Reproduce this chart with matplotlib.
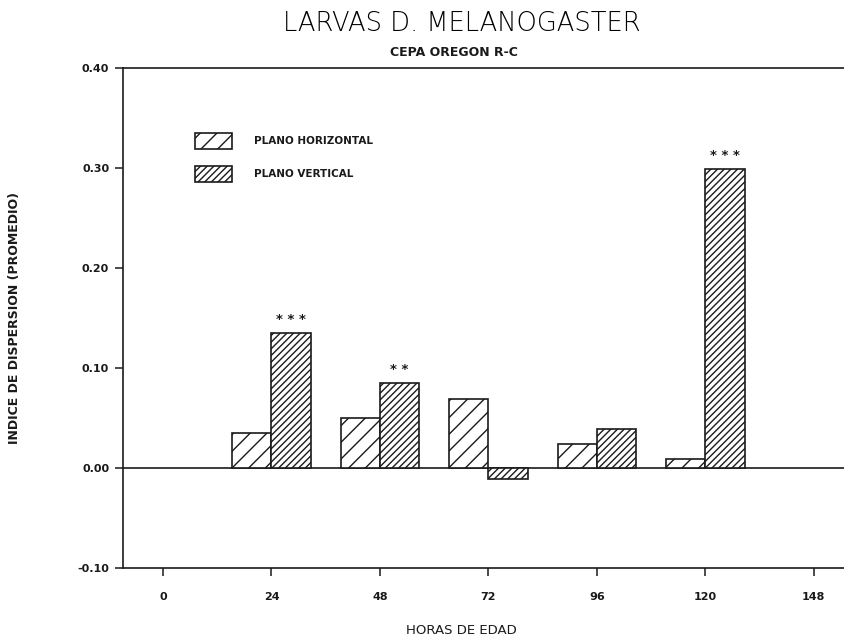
import matplotlib
matplotlib.use("Agg")
import matplotlib.pyplot as plt
import numpy as np

# horas de edad y promedios del indice de dispersion
horas = [24, 48, 72, 96, 120]
plano_horizontal = [0.035, 0.050, 0.069, 0.024, 0.009]
plano_vertical = [0.135, 0.085, -0.011, 0.039, 0.299]
signif_vertical = ["***", "**", "", "", "***"]

xticks = [0, 24, 48, 72, 96, 120, 144]
xtick_labels = ["0", "24", "48", "72", "96", "120", "148"]
yticks = [-0.10, 0.00, 0.10, 0.20, 0.30, 0.40]
ytick_labels = ["-0.10", "0.00", "0.10", "0.20", "0.30", "0.40"]

INK = "#1a1a1a"
plt.rcParams["font.family"] = ["DejaVu Sans"]
plt.rcParams["hatch.linewidth"] = 1.0
plt.rcParams["hatch.color"] = INK


def main():
    fig = plt.figure(figsize=(8.45, 6.43), dpi=100)
    ax = fig.add_axes([0.1456, 0.1166, 0.8544, 0.7776])

    w = 8.7
    x = np.array(horas)
    ax.bar(x - w / 2, plano_horizontal, width=w, facecolor="white",
           edgecolor=INK, linewidth=1.2, hatch="//", label="PLANO HORIZONTAL", zorder=3)
    barras_v = ax.bar(x + w / 2, plano_vertical, width=w, facecolor="white",
                      edgecolor=INK, linewidth=1.2, hatch="/////", label="PLANO VERTICAL", zorder=3)

    for b, s, v in zip(barras_v, signif_vertical, plano_vertical):
        if s:
            ax.annotate(" ".join(s), (b.get_x() + b.get_width() / 2, v),
                        xytext=(0, 5), textcoords="offset points",
                        ha="center", va="bottom", fontsize=9.5, fontweight="bold", color=INK)

    ax.axhline(0, color=INK, linewidth=1.2, zorder=2)

    ax.set_xlim(-8.85, 150.9)
    ax.set_ylim(-0.10, 0.40)
    ax.set_xticks(xticks)
    ax.set_xticklabels(xtick_labels)
    ax.set_yticks(yticks)
    ax.set_yticklabels(ytick_labels)
    ax.tick_params(axis="both", direction="out", length=6, width=1.1, color=INK,
                   labelsize=8, labelcolor=INK)
    ax.tick_params(axis="x", pad=11)
    ax.tick_params(axis="y", pad=4)
    for lab in ax.get_xticklabels() + ax.get_yticklabels():
        lab.set_fontweight("semibold")

    ax.spines["right"].set_visible(False)
    for s in ["left", "top", "bottom"]:
        ax.spines[s].set_linewidth(1.2)
        ax.spines[s].set_color(INK)

    # rotulos de los ejes
    fig.text(461 / 845, 1 - 630 / 643, "HORAS DE EDAD", ha="center", va="center",
             fontsize=9.5, color=INK)
    fig.text(15 / 845, 1 - 318 / 643, "INDICE DE DISPERSION (PROMEDIO)", rotation=90,
             ha="center", va="center", fontsize=9, fontweight="semibold", color=INK)

    fig.text(462 / 845, 1 - 23.5 / 643, "LARVAS D. MELANOGASTER", ha="center", va="center",
             fontsize=18.5, fontweight=200, color="black")
    fig.text(454 / 845, 1 - 52.5 / 643, "CEPA OREGON R-C", ha="center", va="center",
             fontsize=9, fontweight="semibold", color=INK)

    leg = ax.legend(loc="upper left", bbox_to_anchor=(195 / 845, 1 - 133 / 643),
                    bbox_transform=fig.transFigure, frameon=False, borderpad=0,
                    borderaxespad=0, handlelength=3.6, handleheight=2.0,
                    handletextpad=2.1, labelspacing=1.6,
                    prop={"size": 7.5, "weight": "semibold"})
    for t in leg.get_texts():
        t.set_color(INK)

    fig.savefig("out.png", dpi=100)


if __name__ == "__main__":
    main()
